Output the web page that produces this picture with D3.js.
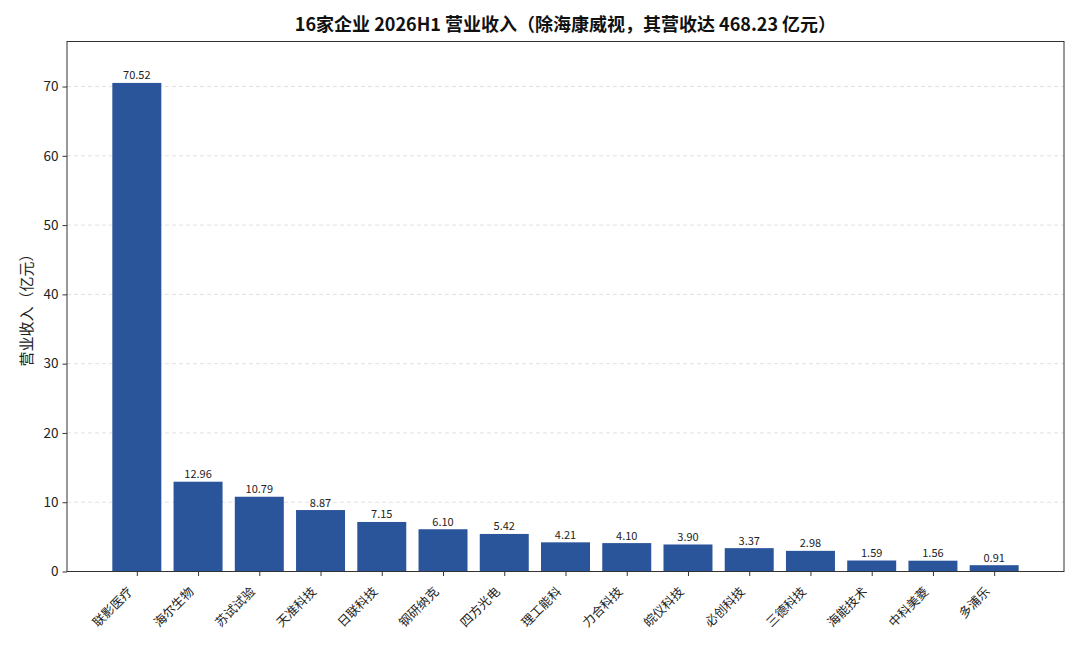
<!DOCTYPE html>
<html>
<head>
<meta charset="utf-8">
<script src="https://cdn.jsdelivr.net/npm/d3@7"></script>
<style>
html,body{margin:0;padding:0;background:#fff;}
svg{display:block;font-family:"Noto Sans CJK SC","Noto Sans",sans-serif;}
</style>
</head>
<body>
<svg id="chart" width="1080" height="648"></svg>
<script>
const companies = ["联影医疗","海尔生物","苏试试验","天准科技","日联科技","钢研纳克","四方光电","理工能科","力合科技","皖仪科技","必创科技","三德科技","海能技术","中科美菱","多浦乐"];
const revenue = [70.52,12.96,10.79,8.87,7.15,6.10,5.42,4.21,4.10,3.90,3.37,2.98,1.59,1.56,0.91];
const yTicks = [0,10,20,30,40,50,60,70];
const titleText = "16家企业 2026H1 营业收入（除海康威视，其营收达 468.23 亿元）";
const yLabel = "营业收入（亿元）";

const svg = d3.select("#chart");
const m = {left:67, right:1064, top:41.5, bottom:571.5};
const n = companies.length;
const x = d3.scaleLinear().domain([-1.14, n - 1 + 1.14]).range([m.left, m.right]);
const y = d3.scaleLinear().domain([0, 76.5]).range([m.bottom, m.top]);
const bw = x(0.4) - x(-0.4);

// grid
svg.append("g").selectAll("line").data(yTicks.slice(1)).join("line")
  .attr("x1", m.left).attr("x2", m.right)
  .attr("y1", d => y(d)).attr("y2", d => y(d))
  .attr("stroke", "#d9d9d9").attr("stroke-width", 0.8).attr("stroke-dasharray", "4,3");

// bars
svg.append("g").selectAll("rect").data(revenue).join("rect")
  .attr("x", (d,i) => x(i) - bw/2)
  .attr("y", d => y(d))
  .attr("width", bw)
  .attr("height", d => y(0) - y(d))
  .attr("fill", "#2b559a");

// value labels
svg.append("g").selectAll("text").data(revenue).join("text")
  .attr("x", (d,i) => x(i))
  .attr("y", d => y(d) - 3.5)
  .attr("text-anchor", "middle")
  .attr("font-size", 11)
  .attr("fill", "#222")
  .text(d => d.toFixed(2));

// frame
svg.append("rect").attr("x", m.left).attr("y", m.top)
  .attr("width", m.right - m.left).attr("height", m.bottom - m.top)
  .attr("fill", "none").attr("stroke", "#333").attr("stroke-width", 1);

// y axis
const yAxis = d3.axisLeft(y).tickValues(yTicks).tickSize(4.5).tickPadding(4);
const gy = svg.append("g").attr("transform", `translate(${m.left},0)`).call(yAxis);
gy.select(".domain").remove();
gy.selectAll(".tick line").attr("stroke", "#333");
gy.selectAll(".tick text").attr("font-size", 13.5).attr("fill", "#222")
  .attr("font-family", '"Noto Sans CJK SC","Noto Sans",sans-serif');

// x axis
const xAxis = d3.axisBottom(x).tickValues(d3.range(n)).tickSize(4.5).tickFormat(i => companies[i]);
const gx = svg.append("g").attr("transform", `translate(0,${m.bottom})`).call(xAxis);
gx.select(".domain").remove();
gx.selectAll(".tick line").attr("stroke", "#333");
gx.selectAll(".tick text")
  .attr("font-size", 12.5).attr("fill", "#222")
  .attr("font-family", '"Noto Sans CJK SC","Noto Sans",sans-serif')
  .attr("text-anchor", "end")
  .attr("dy", null)
  .attr("y", 0)
  .attr("transform", "translate(-4,21) rotate(-45)");

// title
svg.append("text").attr("x", (m.left + m.right)/2).attr("y", 31)
  .attr("text-anchor", "middle").attr("font-size", 18).attr("font-weight", "bold")
  .attr("fill", "#111").text(titleText);

// y label
svg.append("text")
  .attr("transform", `translate(32,${(m.top + m.bottom)/2}) rotate(-90)`)
  .attr("text-anchor", "middle").attr("font-size", 15).attr("fill", "#222")
  .text(yLabel);
</script>
</body>
</html>
